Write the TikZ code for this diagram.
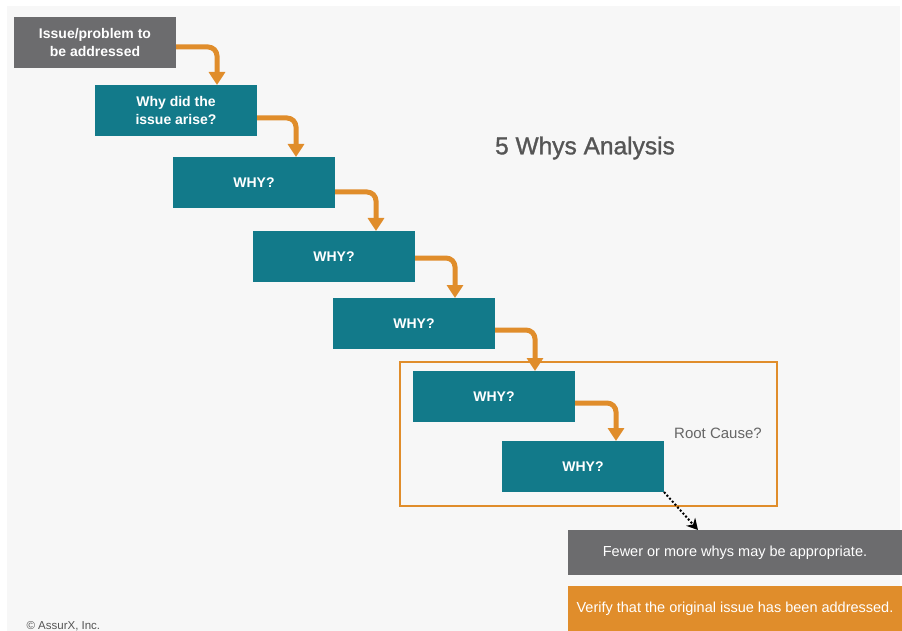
\documentclass[tikz,border=0pt]{standalone}
\usepackage{fontspec}
\setmainfont{Liberation Sans}
\usetikzlibrary{arrows.meta,calc}
\definecolor{teal5}{HTML}{127A8A}
\definecolor{gray5}{HTML}{6C6C6E}
\definecolor{orange5}{HTML}{E08D2B}
\definecolor{panel5}{HTML}{F7F7F7}
\definecolor{title5}{HTML}{555555}
\tikzset{
  whybox/.style={fill=teal5, text=white, font=\fontsize{14}{18}\selectfont\bfseries,
    minimum width=162pt, minimum height=51pt, inner sep=0pt, outer sep=0pt,
    anchor=north west, align=center},
  issuebox/.style={whybox, fill=gray5},
  notebox/.style={text=white, font=\fontsize{14.5}{17}\selectfont, minimum width=334pt,
    minimum height=45pt, inner sep=0pt, outer sep=0pt, anchor=north west},
  oarrow/.style={draw=orange5, line width=5pt, rounded corners=9pt,
    -{Triangle[width=16pt,length=13pt]}},
  darrow/.style={draw=black, line width=2pt, dash pattern=on 2pt off 2pt,
    -{Stealth[width=12pt,length=11pt]}},
}
\begin{document}
\begin{tikzpicture}[x=1pt,y=-1pt]
\useasboundingbox (0,0) rectangle (902,631);
\fill[panel5] (7,6) rectangle (900,631);

\node[issuebox] (b0) at (14,17) {Issue/problem to\\be addressed};
\node[whybox] (b1) at (95,85) {Why did the\\issue arise?};
\node[whybox] (b2) at (173,157) {WHY?};
\node[whybox] (b3) at (253,231) {WHY?};
\node[whybox] (b4) at (333,298) {WHY?};
\node[whybox] (b5) at (413,371) {WHY?};
\node[whybox] (b6) at (502,441) {WHY?};

\node[draw=orange5, line width=1.5pt, minimum width=377pt, minimum height=144pt,
  inner sep=0pt, outer sep=0pt, anchor=north west] (rc) at (400,362) {};
\node[text=title5!90!white, font=\fontsize{15}{18}\selectfont] (rclabel) at (718,433) {Root Cause?};

\node[text=title5, font=\fontsize{24.5}{28}\selectfont\addfontfeature{FakeBold=1.2}] (title) at (585,148) {5 Whys Analysis};

\node[notebox, fill=gray5] (fewer) at (568,530) {Fewer or more whys may be appropriate.};
\node[notebox, fill=orange5] (verify) at (568,586) {Verify that the original issue has been addressed.};

\node[text=title5, font=\fontsize{11.5}{13}\selectfont, anchor=west] (copy) at (23,626) {© AssurX, Inc.};

\draw[oarrow] ([yshift=-30pt]b0.north east) -| ([xshift=122pt]b1.north west);
\draw[oarrow] ([yshift=-33pt]b1.north east) -| ([xshift=123pt]b2.north west);
\draw[oarrow] ([yshift=-35pt]b2.north east) -| ([xshift=123pt]b3.north west);
\draw[oarrow] ([yshift=-27pt]b3.north east) -| ([xshift=122pt]b4.north west);
\draw[oarrow] ([yshift=-32pt]b4.north east) -| ([xshift=122pt]b5.north west);
\draw[oarrow] ([yshift=-32pt]b5.north east) -| ([xshift=114pt]b6.north west);

\coordinate (tip) at ([xshift=130pt]fewer.north west);
\draw[darrow] (b6.south east) -- (tip);
\end{tikzpicture}
\end{document}
